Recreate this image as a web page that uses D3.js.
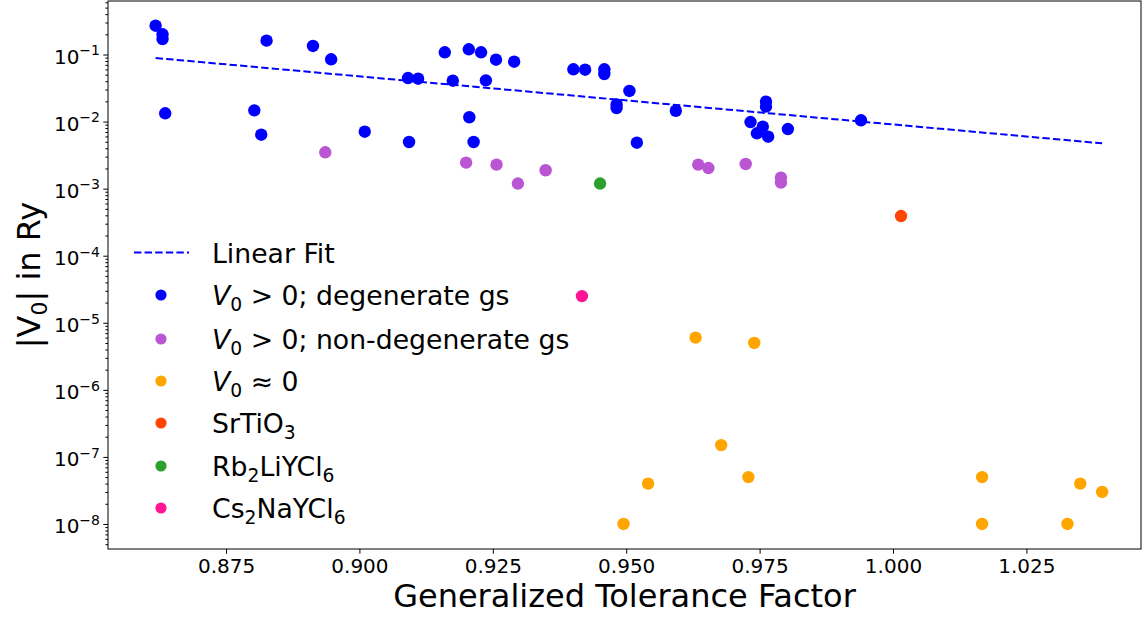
<!DOCTYPE html>
<html>
<head>
<meta charset="utf-8">
<script src="https://cdn.jsdelivr.net/npm/d3@7"></script>
<style>
body { margin: 0; background: #fff; }
text { font-family: "DejaVu Sans", sans-serif; fill: #000; }
</style>
</head>
<body>
<script>
// values
var degX = [0.8618, 0.8631, 0.8631, 0.8636, 0.8803, 0.8816, 0.8826, 0.8913, 0.8947, 0.9010,
            0.9091, 0.9093, 0.9110, 0.9160, 0.9175, 0.9205, 0.9206, 0.9214, 0.9228, 0.9237,
            0.9256, 0.9290, 0.9401, 0.9423, 0.9459, 0.9459, 0.9482, 0.9482, 0.9506, 0.9520,
            0.9593, 0.9733, 0.9745, 0.9756, 0.9762, 0.9762, 0.9766, 0.9803, 0.9940];
var degY = [0.269, 0.200, 0.170, 0.0133, 0.0147, 0.00637, 0.161, 0.134, 0.0848, 0.00706,
            0.0446, 0.00496, 0.0436, 0.108, 0.0407, 0.1195, 0.0116, 0.00496, 0.108, 0.0412,
            0.0836, 0.0781, 0.0602, 0.0593, 0.0602, 0.0512, 0.0180, 0.0159, 0.0286, 0.00484,
            0.0145, 0.00985, 0.00668, 0.00839, 0.0198, 0.0167, 0.00595, 0.00774, 0.01045];

var nondegX = [0.8936, 0.9200, 0.9257, 0.9297, 0.9349, 0.9635, 0.9654, 0.9724, 0.9790, 0.9790];
var nondegY = [0.00348, 0.00244, 0.00228, 0.00119, 0.00188, 0.00228, 0.00203, 0.00233, 0.00146, 0.00123];

var zeroX = [0.9495, 0.9541, 0.9630, 0.9678, 0.9729, 0.9740, 1.0167, 1.0167, 1.0327, 1.0351, 1.0392];
var zeroY = [1e-8, 4e-8, 6e-6, 1.5e-7, 5e-8, 5e-6, 5e-8, 1e-8, 1e-8, 4e-8, 3e-8];

var srtioX = [1.0015], srtioY = [3.9e-4];
var rbX = [0.9451], rbY = [1.19e-3];
var csX = [0.9417], csY = [2.5e-5];

var fitX = [0.8618, 1.0392], fitY = [0.0887, 0.00474];

var xTicks = [0.875, 0.900, 0.925, 0.950, 0.975, 1.000, 1.025];
var yTickExp = [-8, -7, -6, -5, -4, -3, -2, -1];

window.onload = drawChart();

function drawChart(){

    var width = 1142, height = 619;
    var plotL = 108, plotR = 1141, plotT = 1, plotB = 549;

    var svg = d3.select("body").append("svg")
        .attr("width", width)
        .attr("height", height);

    var x = d3.scaleLinear().domain([0.85288, 1.04648]).range([plotL, plotR]);
    var y = d3.scaleLog().domain([Math.pow(10, -8.373), Math.pow(10, -0.2023)]).range([plotB, plotT]);

    //fit line
    svg.append("path")
        .datum(d3.zip(fitX, fitY))
        .attr("d", d3.line().x(function(d){ return x(d[0]); }).y(function(d){ return y(d[1]); }))
        .attr("fill", "none")
        .attr("stroke", "blue")
        .attr("stroke-width", 2)
        .attr("stroke-dasharray", "7.4,3.2");

    //scatter groups
    var groups = [
        {xs: degX, ys: degY, color: "blue"},
        {xs: nondegX, ys: nondegY, color: "mediumorchid"},
        {xs: zeroX, ys: zeroY, color: "orange"},
        {xs: srtioX, ys: srtioY, color: "orangered"},
        {xs: rbX, ys: rbY, color: "#2ca02c"},
        {xs: csX, ys: csY, color: "deeppink"}
    ];

    groups.forEach(function(g){
        svg.append("g").selectAll("circle")
            .data(d3.zip(g.xs, g.ys))
            .enter()
            .append("circle")
            .attr("cx", function(d){ return x(d[0]); })
            .attr("cy", function(d){ return y(d[1]); })
            .attr("r", 6.2)
            .attr("fill", g.color);
    });

    //x axis
    var xAxis = svg.append("g")
        .attr("transform", "translate(0," + plotB + ")")
        .call(d3.axisBottom(x).tickValues(xTicks).tickSize(4.7).tickPadding(5).tickFormat(d3.format(".3f")));
    xAxis.select(".domain").remove();
    xAxis.selectAll("text").attr("font-size", 20);

    //y axis: minor + major ticks
    var minor = [];
    for (var e = -9; e <= 0; e++) {
        for (var m = 2; m <= 9; m++) {
            var v = m * Math.pow(10, e);
            if (v > y.domain()[0] && v < y.domain()[1]) minor.push(v);
        }
    }
    var yMinor = svg.append("g")
        .attr("transform", "translate(" + plotL + ",0)")
        .call(d3.axisLeft(y).tickValues(minor).tickSize(2.6).tickFormat(""));
    yMinor.select(".domain").remove();

    var yMajor = svg.append("g")
        .attr("transform", "translate(" + plotL + ",0)")
        .call(d3.axisLeft(y).tickValues(yTickExp.map(function(k){ return Math.pow(10, k); })).tickSize(4.7).tickFormat(""));
    yMajor.select(".domain").remove();

    yTickExp.forEach(function(k){
        var t = svg.append("text")
            .attr("x", 100)
            .attr("y", y(Math.pow(10, k)) + 9.3)
            .attr("text-anchor", "end")
            .attr("font-size", 20);
        t.append("tspan").text("10");
        t.append("tspan").attr("font-size", 14).attr("dy", -8.5).text("\u2212" + Math.abs(k));
    });

    //frame
    svg.append("rect")
        .attr("x", plotL).attr("y", plotT)
        .attr("width", plotR - plotL).attr("height", plotB - plotT)
        .attr("fill", "none").attr("stroke", "#000").attr("stroke-width", 1);

    //axis labels
    svg.append("text")
        .attr("x", (plotL + plotR) / 2)
        .attr("y", 607)
        .attr("text-anchor", "middle")
        .attr("font-size", 32)
        .text("Generalized Tolerance Factor");

    var yl = svg.append("text")
        .attr("transform", "translate(40," + ((plotT + plotB) / 2) + ") rotate(-90)")
        .attr("text-anchor", "middle")
        .attr("font-size", 32);
    yl.append("tspan").text("|V");
    yl.append("tspan").attr("font-size", 22).attr("dy", 7).text("0");
    yl.append("tspan").attr("dy", -7).text("| in Ry");

    //legend
    var legendLabels = [
        [["V", "i"], ["0", "sub"], [" > 0; degenerate gs", ""]],
        [["V", "i"], ["0", "sub"], [" > 0; non-degenerate gs", ""]],
        [["V", "i"], ["0", "sub"], [" \u2248 0", ""]],
        [["SrTiO", ""], ["3", "sub"]],
        [["Rb", ""], ["2", "sub"], ["LiYCl", ""], ["6", "sub"]],
        [["Cs", ""], ["2", "sub"], ["NaYCl", ""], ["6", "sub"]]
    ];
    var legendColors = ["blue", "mediumorchid", "orange", "orangered", "#2ca02c", "deeppink"];
    var legendRows = [295, 339, 381, 423, 466, 508];

    svg.append("line")
        .attr("x1", 134).attr("x2", 189)
        .attr("y1", 252.5).attr("y2", 252.5)
        .attr("stroke", "blue").attr("stroke-width", 2)
        .attr("stroke-dasharray", "7.4,3.2");
    svg.append("text")
        .attr("x", 212).attr("y", 262.5)
        .attr("font-size", 26.7)
        .text("Linear Fit");

    legendLabels.forEach(function(parts, i){
        var ry = legendRows[i];
        svg.append("circle")
            .attr("cx", 161).attr("cy", ry)
            .attr("r", 5.6)
            .attr("fill", legendColors[i]);
        var t = svg.append("text")
            .attr("x", 212).attr("y", ry + 10)
            .attr("font-size", 26.7);
        var shifted = 0;
        parts.forEach(function(p){
            var s = t.append("tspan").text(p[0]);
            if (p[1] === "sub") {
                s.attr("font-size", 18.7).attr("dy", 6 - shifted);
                shifted = 6;
            } else {
                if (shifted) { s.attr("dy", -shifted); shifted = 0; }
                if (p[1] === "i") s.attr("font-style", "italic");
            }
        });
    });
};
</script>
</body>
</html>
